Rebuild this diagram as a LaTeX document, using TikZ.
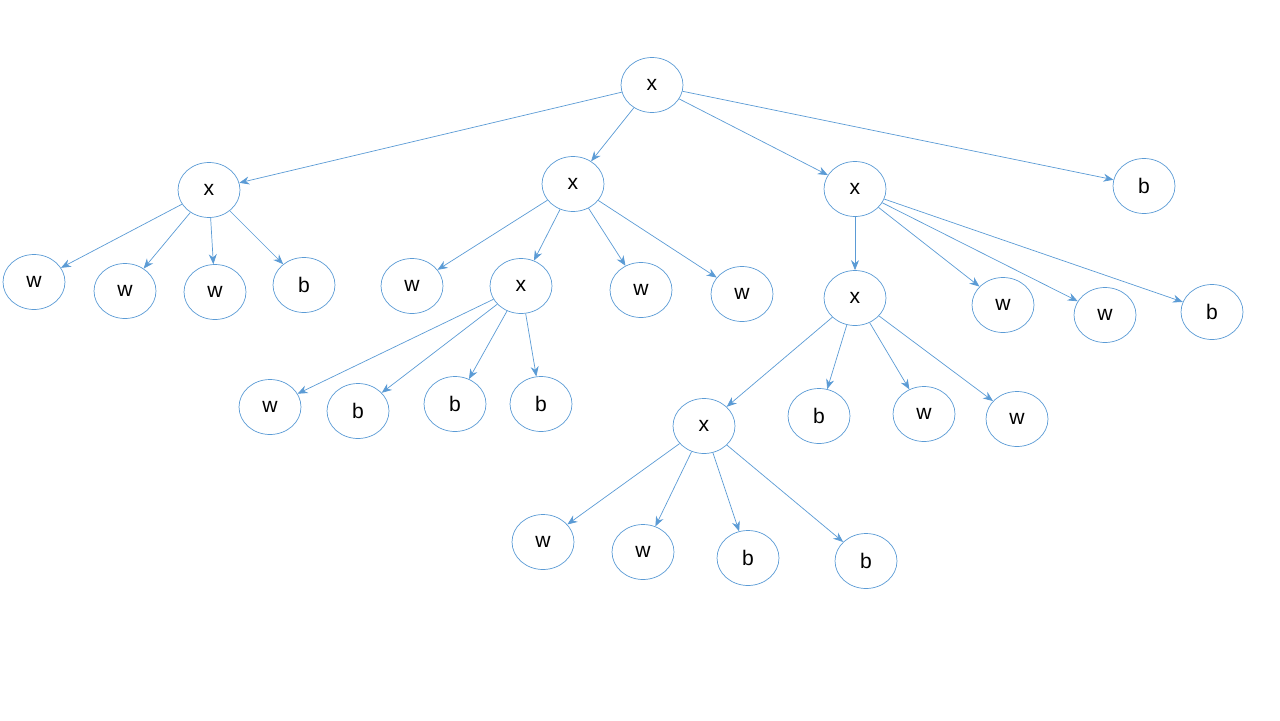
\documentclass[tikz,border=0pt]{standalone}
\usepackage{fontspec}
\setmainfont{Liberation Sans}
\usetikzlibrary{arrows.meta, shapes.geometric}
\definecolor{treeblue}{RGB}{91,155,213}
\tikzstyle{arrow} = [treeblue,->,>={Stealth[length=2mm,width=1.6mm]}]

\begin{document}
\begin{tikzpicture}[
        x=0.02cm, y=-0.02cm,
        every node/.style={font=\large},
        leaf/.style={ellipse, draw=treeblue, minimum width=1.24cm, minimum height=1.1cm, inner sep=0pt}
    ]
    \useasboundingbox (0,0) rectangle (1280,720);

    % Nodes
    \node (r) [leaf] at (652,85) {x};
    \node (a) [leaf] at (209,190) {x};
    \node (c) [leaf] at (573,184) {x};
    \node (d) [leaf] at (855,189) {x};
    \node (e) [leaf] at (1144,186) {b};

    \node (a1) [leaf] at (34,282) {w};
    \node (a2) [leaf] at (125,291) {w};
    \node (a3) [leaf] at (215,292) {w};
    \node (a4) [leaf] at (304,285) {b};

    \node (c1) [leaf] at (412,286) {w};
    \node (cx) [leaf] at (521,286) {x};
    \node (c3) [leaf] at (641,290) {w};
    \node (c4) [leaf] at (742,294) {w};

    \node (cx1) [leaf] at (270,407) {w};
    \node (cx2) [leaf] at (358,411) {b};
    \node (cx3) [leaf] at (455,404) {b};
    \node (cx4) [leaf] at (541,404) {b};

    \node (dx) [leaf] at (855,298) {x};
    \node (d2) [leaf] at (1003,305) {w};
    \node (d3) [leaf] at (1105,315) {w};
    \node (d4) [leaf] at (1212,312) {b};

    \node (xx) [leaf] at (704,426) {x};
    \node (dx2) [leaf] at (819,416) {b};
    \node (dx3) [leaf] at (924,414) {w};
    \node (dx4) [leaf] at (1017,419) {w};

    \node (xx1) [leaf] at (543,542) {w};
    \node (xx2) [leaf] at (643,552) {w};
    \node (xx3) [leaf] at (748,558) {b};
    \node (xx4) [leaf] at (866,561) {b};

    % Arrows
    \foreach \p/\q in {r/a, r/c, r/d, r/e,
            a/a1, a/a2, a/a3, a/a4,
            c/c1, c/cx, c/c3, c/c4,
            cx/cx1, cx/cx2, cx/cx3, cx/cx4,
            d/dx, d/d2, d/d3, d/d4,
            dx/xx, dx/dx2, dx/dx3, dx/dx4,
            xx/xx1, xx/xx2, xx/xx3, xx/xx4}
        \draw [arrow] (\p) -- (\q);

\end{tikzpicture}
\end{document}
